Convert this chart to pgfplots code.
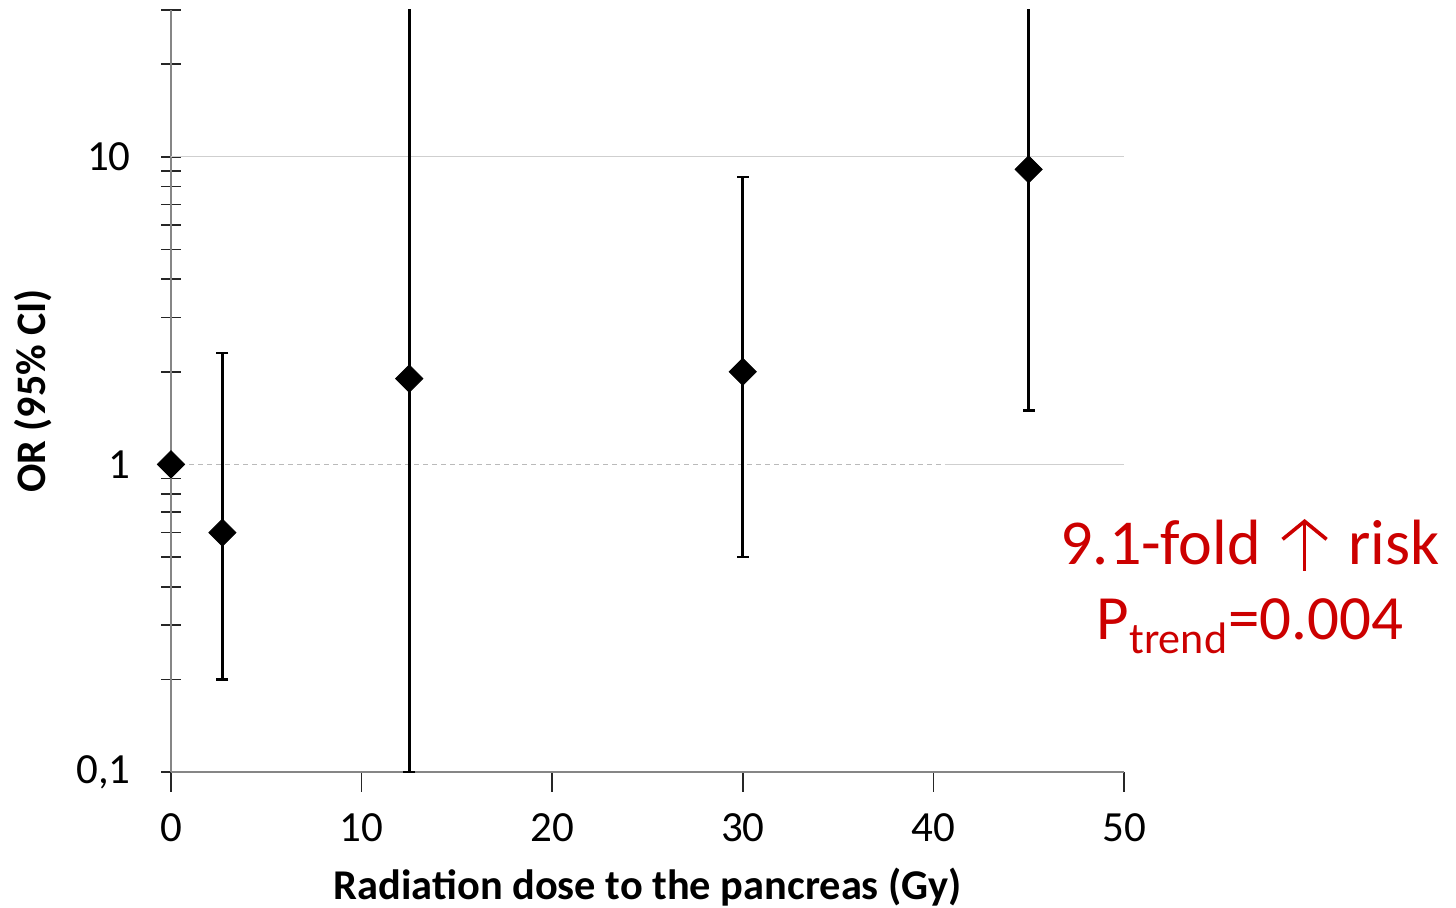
\documentclass[border=0pt]{standalone}
\usepackage{pgfplots}
\pgfplotsset{compat=1.18}
\usetikzlibrary{arrows.meta}
\usepackage{fontspec}
\setmainfont{Carlito}
\definecolor{redtxt}{HTML}{CC0000}
\definecolor{axgray}{HTML}{868686}
\definecolor{gridgray}{HTML}{CFCFCF}
\begin{document}
\begin{tikzpicture}[x=1pt,y=1pt]
\path[use as bounding box] (0,0) rectangle (728,454);
\begin{axis}[
  at={(85.5pt,68pt)}, anchor=south west,
  scale only axis, width=476.5pt, height=381pt,
  xmin=0, xmax=50, ymode=log, ymin=0.1, ymax=30,
  axis x line*=bottom, axis y line*=left,
  axis line style={axgray, line width=1pt, -},
  xtick={0,10,20,30,40,50}, xticklabels={0,10,20,30,40,50},
  minor xtick={},
  ytick={0.1,1,10}, yticklabels={{0,1},1,10},
  minor ytick={0.2,0.3,0.4,0.5,0.6,0.7,0.8,0.9,2,3,4,5,6,7,8,9,20,30},
  tick align=center, major tick length=10pt, minor tick length=10pt,
  every tick/.style={black!85, line width=0.75pt},
  xtick style={yshift=-5pt},
  ticklabel style={font=\fontsize{21.5}{24}\selectfont, inner sep=0pt},
  yticklabel style={anchor=east, xshift=-15pt},
  xticklabel style={anchor=north, yshift=-15.5pt},
  clip=true,
]
% grid lines
\addplot[gridgray, line width=0.6pt] coordinates {(0,10) (50,10)};
\addplot[gridgray!90!black, line width=0.7pt, dash pattern=on 2.5pt off 2pt] coordinates {(0,1) (40.6,1)};
\addplot[gridgray, line width=0.6pt] coordinates {(40.6,1) (50,1)};
% confidence intervals
\addplot[black, line width=1.35pt, mark=-, mark size=3pt, mark options={line width=1.35pt}] coordinates {(2.7,0.2) (2.7,2.3)};
\addplot[black, line width=1.35pt, mark=-, mark size=3pt, mark indices={1}, mark options={line width=1.35pt}] coordinates {(12.5,0.1) (12.5,100)};
\addplot[black, line width=1.35pt, mark=-, mark size=3pt, mark options={line width=1.35pt}] coordinates {(30,0.5) (30,8.6)};
\addplot[black, line width=1.35pt, mark=-, mark size=3pt, mark indices={1}, mark options={line width=1.35pt}] coordinates {(45,1.5) (45,100)};
% odds ratios
\addplot[only marks, mark=square*, mark size=4.8pt, mark options={rotate=45, fill=black, draw=black}] coordinates {(0,1) (2.7,0.6) (12.5,1.9) (30,2.0) (45,9.1)};
\end{axis}
\node[anchor=base, font=\fontsize{21.2}{24}\selectfont\bfseries] at (323.75,4) {Radiation dose to the pancreas (Gy)};
\node[rotate=90, font=\fontsize{21}{24}\selectfont\bfseries] at (16.5,258.5) {OR (95\% CI)};
\node[anchor=base, text=redtxt, font=\fontsize{32}{36}\selectfont] at (625,171.5) {9.1-fold\hspace{10pt}\tikz[baseline=0pt]\draw[redtxt, line width=1.8pt, -{Straight Barb[length=9pt, width=22pt, line width=1.8pt]}] (0,-3) -- (0,23);\hspace{10pt}risk};
\node[anchor=base, text=redtxt, font=\fontsize{31.5}{36}\selectfont] at (625,134) {P\textsubscript{trend}=0.004};
\end{tikzpicture}
\end{document}
